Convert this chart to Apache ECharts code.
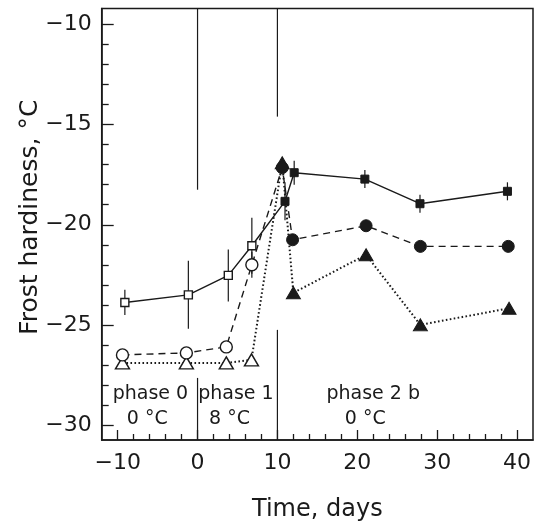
<!DOCTYPE html>
<html>
<head>
<meta charset="utf-8">
<script src="https://cdn.jsdelivr.net/npm/echarts@6/dist/echarts.min.js"></script>
<style>
html,body{margin:0;padding:0;background:#fff;}
#chart{width:535px;height:528px;}
</style>
</head>
<body>
<div id="chart"></div>
<script>
// ---- data ----
const squareTime = [-9.1, -1.15, 3.85, 6.8, 10.95, 12.1, 20.95, 27.85, 38.8];
const squareHard = [-23.88, -23.5, -22.53, -21.05, -18.83, -17.4, -17.72, -18.95, -18.33];
const squareErr  = [0.63, 1.7, 1.3, 1.4, 0.95, 0.6, 0.45, 0.45, 0.45];
const squareOpen = [true, true, true, true, false, false, false, false, false];

const circleTime = [-9.4, -1.4, 3.6, 6.8, 10.6, 11.9, 21.1, 27.9, 38.9];
const circleHard = [-26.5, -26.4, -26.1, -22.0, -17.15, -20.75, -20.05, -21.08, -21.08];
const circleErr  = [0, 0, 0, 0.65, 0, 0, 0, 0, 0];
const circleOpen = [true, true, true, true, false, false, false, false, false];

const triTime = [-9.4, -1.4, 3.6, 6.75, 10.6, 12.0, 21.1, 27.9, 39.0];
const triHard = [-26.9, -26.9, -26.9, -26.75, -16.9, -23.4, -21.5, -25.0, -24.17];
const triOpen = [true, true, true, true, false, false, false, false, false];

const dividerX      = [0, 0, 10, 10];
const dividerTop    = [-9.2, -27.65, -9.2, -25.25];
const dividerBottom = [-18.25, -30.75, -14.6, -30.75];

const phaseText = ['phase 0', '0 °C', 'phase 1', '8 °C', 'phase 2 b', '0 °C'];
const phaseX    = [-5.9, -6.3, 4.8, 4.0, 22.0, 21.0];
const phaseY    = [-28.45, -29.7, -28.45, -29.7, -28.45, -29.7];

const xMajorTicks = [-10, 0, 10, 20, 30, 40];
const xMinorTicks = [-8, -6, -4, -2, 2, 4, 6, 8, 12, 14, 16, 18, 22, 24, 26, 28, 32, 34, 36, 38];
const yMajorTicks = [-30, -25, -20, -15, -10];
const yMinorTicks = [-29, -28, -27, -26, -24, -23, -22, -21, -19, -18, -17, -16, -14, -13, -12, -11];

// ---- chart ----
const INK = '#1a1a1a';
const FONT = 'DejaVu Sans';
const chart = echarts.init(document.getElementById('chart'), null, {renderer: 'canvas'});
const fmt = v => (v < 0 ? '\u2212' + Math.abs(v) : String(v));

function pts(t, h, open) {
  return t.map((x, i) => ({
    value: [x, h[i]],
    itemStyle: open[i] ? {color: '#fff', borderColor: INK, borderWidth: 1.4}
                       : {color: INK, borderColor: INK, borderWidth: 1}
  }));
}
function errData(t, h, e) {
  const out = [];
  t.forEach((x, i) => { if (e[i] > 0) out.push([x, h[i] - e[i], h[i] + e[i]]); });
  return out;
}
function vlineItem(params, api) {
  const a = api.coord([api.value(0), api.value(1)]);
  const b = api.coord([api.value(0), api.value(2)]);
  return {type: 'line', shape: {x1: a[0], y1: a[1], x2: b[0], y2: b[1]},
          style: {stroke: INK, lineWidth: 1.2}};
}

const X = {min: -12, max: 42};
const Y = {min: -30.75, max: -9.2};

chart.setOption({
  animation: false,
  backgroundColor: '#fff',
  grid: {left: 101.7, top: 8.5, right: 2, bottom: 88, show: true,
         borderColor: INK, borderWidth: 1.5, backgroundColor: 'transparent'},
  xAxis: [
    {type: 'value', min: X.min, max: X.max, position: 'bottom',
     name: 'Time, days', nameLocation: 'middle', nameGap: 58,
     nameTextStyle: {fontFamily: FONT, fontSize: 24, color: INK},
     axisLine: {onZero: false, lineStyle: {color: INK, width: 1.5}},
     axisTick: {inside: true, length: 10, customValues: xMajorTicks, lineStyle: {color: INK, width: 1.3}},
     axisLabel: {customValues: xMajorTicks, formatter: fmt, margin: 12,
                 fontFamily: FONT, fontSize: 22, color: INK},
     splitLine: {show: false}},
    {type: 'value', min: X.min, max: X.max, position: 'bottom',
     axisLine: {show: false, onZero: false},
     axisTick: {inside: true, length: 6, customValues: xMinorTicks, lineStyle: {color: INK, width: 1.3}},
     axisLabel: {show: false}, splitLine: {show: false}}
  ],
  yAxis: [
    {type: 'value', min: Y.min, max: Y.max, position: 'left',
     name: 'Frost hardiness, °C', nameLocation: 'middle', nameGap: 59, nameMoveOverlap: false,
     nameTextStyle: {fontFamily: FONT, fontSize: 25, color: INK, padding: [0, 0, 0, 14]},
     axisLine: {onZero: false, lineStyle: {color: INK, width: 1.5}},
     axisTick: {inside: true, length: 12, customValues: yMajorTicks, lineStyle: {color: INK, width: 1.3}},
     axisLabel: {customValues: yMajorTicks, formatter: fmt, margin: 10,
                 fontFamily: FONT, fontSize: 22, color: INK},
     splitLine: {show: false}},
    {type: 'value', min: Y.min, max: Y.max, position: 'left',
     axisLine: {show: false, onZero: false},
     axisTick: {inside: true, length: 7, customValues: yMinorTicks, lineStyle: {color: INK, width: 1.3}},
     axisLabel: {show: false}, splitLine: {show: false}}
  ],
  series: [
    {type: 'custom', name: 'dividers', z: 1,
     data: dividerX.map((x, i) => [x, dividerTop[i], dividerBottom[i]]),
     renderItem: vlineItem},
    {type: 'custom', name: 'phases', z: 1,
     data: phaseX.map((x, i) => [x, phaseY[i], i]),
     renderItem: (params, api) => {
       const p = api.coord([api.value(0), api.value(1)]);
       return {type: 'text', x: p[0], y: p[1],
               style: {text: phaseText[params.dataIndex], fontFamily: FONT, fontSize: 19,
                       fill: INK, align: 'center', verticalAlign: 'middle'}};
     }},
    {type: 'custom', name: 'errSquares', z: 2,
     data: errData(squareTime, squareHard, squareErr), renderItem: vlineItem},
    {type: 'custom', name: 'errCircles', z: 2,
     data: errData(circleTime, circleHard, circleErr), renderItem: vlineItem},
    {type: 'line', name: 'triangles', z: 3,
     data: pts(triTime, triHard, triOpen),
     symbol: 'triangle', symbolSize: [14, 12], showSymbol: true,
     lineStyle: {color: INK, width: 2, type: [1.6, 2.4]}},
    {type: 'line', name: 'circles', z: 4,
     data: pts(circleTime, circleHard, circleOpen),
     symbol: 'circle', symbolSize: 12, showSymbol: true,
     lineStyle: {color: INK, width: 1.4, type: [7, 5]}},
    {type: 'line', name: 'squares', z: 5,
     data: pts(squareTime, squareHard, squareOpen),
     symbol: 'rect', symbolSize: 8, showSymbol: true,
     lineStyle: {color: INK, width: 1.4, type: 'solid'}}
  ]
});
</script>
</body>
</html>
